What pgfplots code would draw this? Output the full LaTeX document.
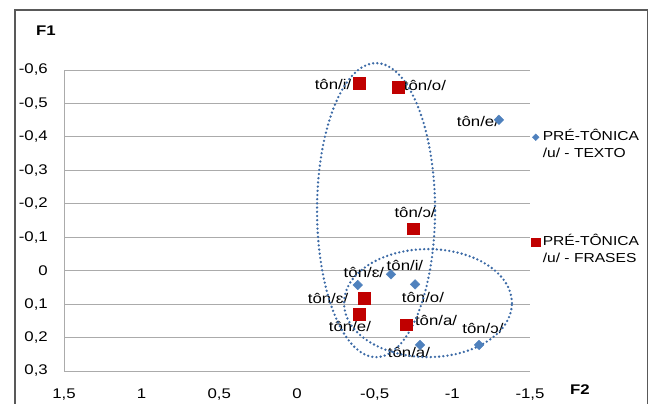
\documentclass[border=0pt]{standalone}
\usepackage{pgfplots}
\pgfplotsset{compat=1.18}
\usepackage{fontspec}
\setmainfont{Liberation Sans}[FakeStretch=1.2]
\definecolor{serA}{HTML}{4F81BD}
\definecolor{serB}{HTML}{C00000}
\definecolor{ellc}{HTML}{3C6AA6}
\definecolor{gridc}{HTML}{ABABAB}
\begin{document}
\fontsize{14pt}{16pt}\selectfont
\begin{tikzpicture}
\useasboundingbox (0,0) rectangle (648pt,404pt);
\draw[line width=1.3pt, color=black!65] (15pt,-2pt) -- (15pt,394pt) -- (647.5pt,394pt) -- (647.5pt,-2pt);
\node[font=\bfseries\fontsize{14pt}{16pt}\selectfont] at (46pt,373pt) {F1};
\node[font=\bfseries\fontsize{14pt}{16pt}\selectfont] at (580pt,14pt) {F2};
\begin{axis}[at={(64pt,33pt)}, anchor=south west, scale only axis,
  width=466pt, height=301pt,
  xmin=-1.5, xmax=1.5, ymin=-0.6, ymax=0.3, x dir=reverse, y dir=reverse,
  axis line style={draw=none}, ymajorgrids, grid style={gridc, line width=0.8pt},
  major tick length=0pt,
  xtick={1.5,1,0.5,0,-0.5,-1,-1.5},
  xticklabels={{1,5},1,{0,5},0,{-0,5},-1,{-1,5}},
  ytick={-0.6,-0.5,-0.4,-0.3,-0.2,-0.1,0,0.1,0.2,0.3},
  yticklabels={{-0,6},{-0,5},{-0,4},{-0,3},{-0,2},{-0,1},0,{0,1},{0,2},{0,3}},
  ticklabel style={font=\fontsize{14pt}{16pt}\selectfont, inner sep=0pt},
  xticklabel style={anchor=north, yshift=-17.5pt},
  yticklabel style={anchor=east, xshift=-16pt},
  clip=false,
  legend cell align=left,
  legend style={at={(axis description cs:1.0032,0.806)}, anchor=north west,
    draw=none, fill=none, inner sep=0pt, row sep=72pt, column sep=2pt,
    font=\fontsize{13pt}{17pt}\selectfont, nodes={align=left, inner sep=1pt}},
  legend image code/.code={\draw[#1, every mark/.append style={scale=0.7}] plot coordinates {(0pt,7.5pt)};},
]
\draw[gridc, line width=0.8pt] (axis cs:1.5,-0.6) -- (axis cs:1.5,0.3);
\addplot[only marks, mark=square*, mark size=3.4pt, mark options={rotate=45, fill=serA, draw=serA}]
 coordinates {(-1.300,-0.451) (-0.391,0.043) (-0.605,0.011) (-0.760,0.041) (-0.792,0.222) (-1.172,0.222)};
\addlegendentry{PRÉ-TÔNICA\\/u/ - TEXTO}
\addplot[only marks, mark=square*, mark size=5.8pt, mark options={fill=serB, draw=serB}]
 coordinates {(-0.399,-0.561) (-0.650,-0.549) (-0.747,-0.125) (-0.431,0.082) (-0.399,0.130) (-0.702,0.162)};
\addlegendentry{PRÉ-TÔNICA\\/u/ - FRASES}
\node at (axis cs:-0.232,-0.558) {tôn/i/};
\node at (axis cs:-0.824,-0.555) {tôn/o/};
\node at (axis cs:-1.165,-0.445) {tôn/e/};
\node at (axis cs:-0.760,-0.173) {tôn/ɔ/};
\node at (axis cs:-0.431,0.004) {tôn/ɛ/};
\node at (axis cs:-0.695,-0.017) {tôn/i/};
\node at (axis cs:-0.811,0.079) {tôn/o/};
\node at (axis cs:-0.200,0.082) {tôn/ɛ/};
\node at (axis cs:-0.341,0.168) {tôn/e/};
\node at (axis cs:-0.895,0.150) {tôn/a/};
\node at (axis cs:-0.721,0.246) {tôn/a/};
\node at (axis cs:-1.197,0.174) {tôn/ɔ/};
\draw[ellc, line width=2.6pt, line cap=round, dash pattern=on 0pt off 4.2pt] (axis cs:-0.509,-0.181) ellipse [x radius=59pt, y radius=147pt];
\draw[ellc, line width=2.6pt, line cap=round, dash pattern=on 0pt off 4.2pt] (axis cs:-0.843,0.097) ellipse [x radius=84pt, y radius=54pt];
\end{axis}
\end{tikzpicture}
\end{document}
